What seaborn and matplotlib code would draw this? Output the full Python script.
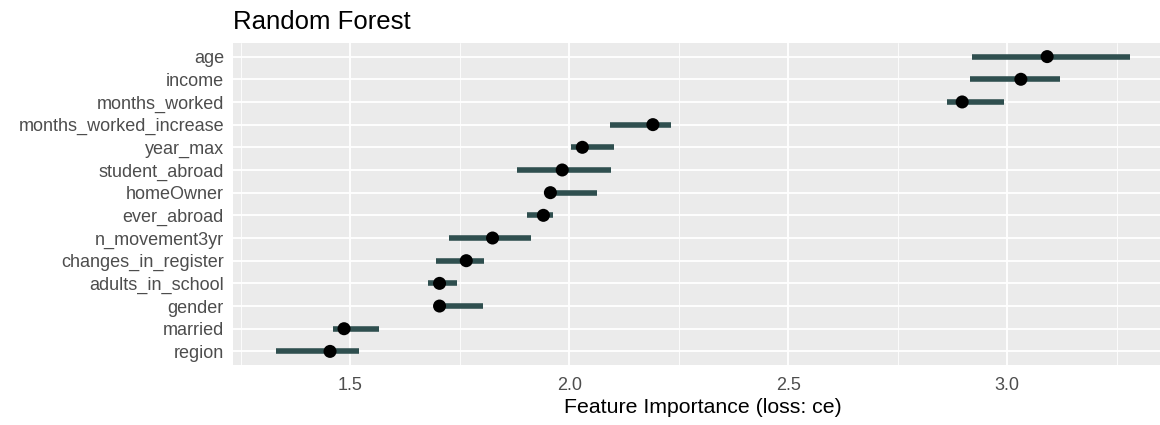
import matplotlib
matplotlib.use("Agg")
import matplotlib.pyplot as plt
import seaborn as sns
import pandas as pd
from matplotlib.ticker import MultipleLocator

# Permutation feature importance (loss: cross-entropy), random forest model
features = [
    "age", "income", "months_worked", "months_worked_increase", "year_max",
    "student_abroad", "homeOwner", "ever_abroad", "n_movement3yr",
    "changes_in_register", "adults_in_school", "gender", "married", "region",
]
importance = [3.091, 3.031, 2.897, 2.191, 2.030, 1.984, 1.957, 1.941,
              1.825, 1.765, 1.704, 1.704, 1.486, 1.454]
lower = [2.919, 2.916, 2.863, 2.093, 2.003, 1.880, 1.950, 1.903,
         1.726, 1.697, 1.677, 1.700, 1.460, 1.330]
upper = [3.279, 3.120, 2.993, 2.232, 2.103, 2.096, 2.063, 1.963,
         1.913, 1.806, 1.743, 1.803, 1.566, 1.519]

df = pd.DataFrame({"feature": features, "importance": importance,
                   "lower": lower, "upper": upper})
# bottom-to-top order so the most important feature sits at the top
df = df.iloc[::-1].reset_index(drop=True)

sns.set_theme(style="darkgrid", rc={
    "axes.facecolor": "#EBEBEB",
    "grid.color": "white",
    "axes.edgecolor": "none",
})
plt.rcParams["font.family"] = ["Liberation Sans", "DejaVu Sans"]

fig = plt.figure(figsize=(11.6, 4.25), dpi=100)
ax = fig.add_axes([233 / 1160, 1 - 365 / 425, (1172 - 233) / 1160, (365 - 43) / 425])

ax.hlines(y=df["feature"], xmin=df["lower"], xmax=df["upper"],
          color="#2F4F4F", linewidth=4.0, zorder=3)
sns.scatterplot(data=df, x="importance", y="feature", ax=ax, color="black",
                s=88, edgecolor="none", zorder=4, legend=False)

ax.set_xlim(1.2325, 3.376)
ax.set_ylim(-0.6, len(features) - 1 + 0.6)
ax.xaxis.set_major_locator(MultipleLocator(0.5))
ax.xaxis.set_minor_locator(MultipleLocator(0.25))
ax.grid(which="major", color="white", linewidth=1.3)
ax.grid(which="minor", axis="x", color="white", linewidth=0.6)
ax.set_axisbelow(True)

ax.tick_params(axis="both", which="major", length=3.5, width=0.9, color="#333333",
               labelsize=13, labelcolor="#4D4D4D", pad=3)
ax.tick_params(axis="x", which="major", pad=5)
ax.tick_params(axis="both", which="minor", length=0)
ax.set_ylabel("")
ax.set_xlabel("Feature Importance (loss: ce)", fontsize=15.3, color="black", labelpad=3)
ax.set_title("Random Forest", fontsize=18.5, loc="left", color="black", pad=10)

for s in ax.spines.values():
    s.set_visible(False)

fig.savefig("out.png", dpi=100)
